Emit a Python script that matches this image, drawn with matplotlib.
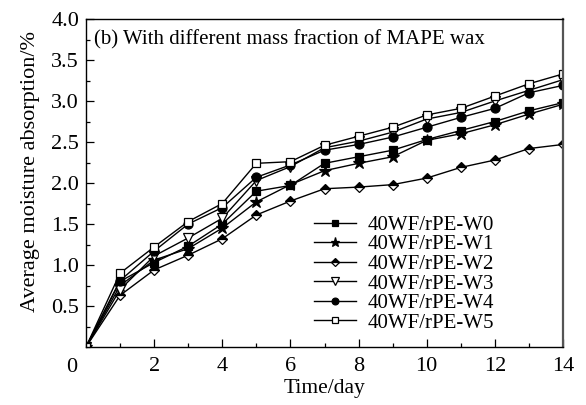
import matplotlib
matplotlib.use("Agg")
import matplotlib.pyplot as plt
from matplotlib.ticker import MultipleLocator, FixedLocator

plt.rcParams['font.family'] = ['Liberation Serif', 'DejaVu Serif']
plt.rcParams['mathtext.fontset'] = 'stix'

# data
days = [0, 1, 2, 3, 4, 5, 6, 7, 8, 9, 10, 11, 12, 13, 14]
w0 = [0, 0.80, 1.03, 1.23, 1.50, 1.90, 1.97, 2.24, 2.32, 2.40, 2.53, 2.64, 2.75, 2.88, 2.98]
w1 = [0, 0.75, 1.06, 1.20, 1.45, 1.77, 1.98, 2.15, 2.24, 2.32, 2.52, 2.60, 2.71, 2.84, 2.96]
w2 = [0, 0.63, 0.94, 1.12, 1.32, 1.61, 1.78, 1.93, 1.95, 1.98, 2.06, 2.19, 2.28, 2.42, 2.47]
w3 = [0, 0.70, 1.11, 1.33, 1.57, 2.03, 2.20, 2.43, 2.51, 2.62, 2.78, 2.86, 3.00, 3.13, 3.26]
w4 = [0, 0.81, 1.17, 1.50, 1.70, 2.07, 2.22, 2.40, 2.47, 2.56, 2.68, 2.80, 2.91, 3.10, 3.19]
w5 = [0, 0.90, 1.22, 1.53, 1.75, 2.24, 2.26, 2.46, 2.57, 2.68, 2.83, 2.91, 3.06, 3.21, 3.33]
series = [w0, w1, w2, w3, w4, w5]
names = ['40WF/rPE-W0', '40WF/rPE-W1', '40WF/rPE-W2',
         '40WF/rPE-W3', '40WF/rPE-W4', '40WF/rPE-W5']
markers = ['s', '*', 'D', 'v', 'o', 's']
sizes = [6, 9, 5.5, 7, 6.5, 6]
filled = [True, True, 'half', False, True, False]

fig = plt.figure(figsize=(5.86, 4.05), dpi=100)
ax = fig.add_axes([86/586, 1 - 347/405, (563-86)/586, (347-19)/405])

for ys, nm, mk, ms, fl in zip(series, names, markers, sizes, filled):
    if fl == 'half':
        ax.plot(days, ys, color='black', lw=1, marker=mk, ms=ms,
                markerfacecolor='black', markerfacecoloralt='white',
                fillstyle='top', markeredgecolor='black', mew=0.9, label=nm)
    else:
        ax.plot(days, ys, color='black', lw=1, marker=mk, ms=ms,
                markerfacecolor='black' if fl else 'white',
                markeredgecolor='black', mew=0.9, label=nm)

ax.set_xlim(0, 14)
ax.set_ylim(0, 4.0)
ax.xaxis.set_major_locator(FixedLocator([2, 4, 6, 8, 10, 12, 14]))
ax.xaxis.set_minor_locator(MultipleLocator(1))
ax.yaxis.set_major_locator(FixedLocator([0.5, 1.0, 1.5, 2.0, 2.5, 3.0, 3.5, 4.0]))
ax.yaxis.set_minor_locator(MultipleLocator(0.25))
ax.yaxis.set_major_formatter(matplotlib.ticker.FormatStrFormatter('%.1f'))
ax.tick_params(which='both', direction='in', top=False, right=False, labelsize=16)
ax.tick_params(which='major', length=6, width=0.9, pad=7)
ax.tick_params(which='minor', length=3, width=0.9)
ax.tick_params(axis='y', pad=5)
for sp in ax.spines.values():
    sp.set_linewidth(1.0)
ax.spines['right'].set_color('#555555')
ax.spines['right'].set_linewidth(1.6)

ax.text(-0.03, -0.035, '0', transform=ax.transAxes, fontsize=16,
        ha='center', va='top')

ax.set_xlabel('Time/day', fontsize=15.5, labelpad=2)
ax.set_ylabel('Average moisture absorption/%', fontsize=16)
ax.yaxis.set_label_coords(-0.097, 0.535)
ax.text(0.017, 0.967, '(b) With different mass fraction of MAPE wax',
        transform=ax.transAxes, fontsize=15, ha='left', va='top')

leg = ax.legend(loc='lower right', bbox_to_anchor=(0.873, 0.018), frameon=False,
                fontsize=15, handlelength=2.0, handletextpad=0.55,
                labelspacing=0.0, borderaxespad=0.0, markerscale=0.75)

fig.savefig('out.png', dpi=100)
